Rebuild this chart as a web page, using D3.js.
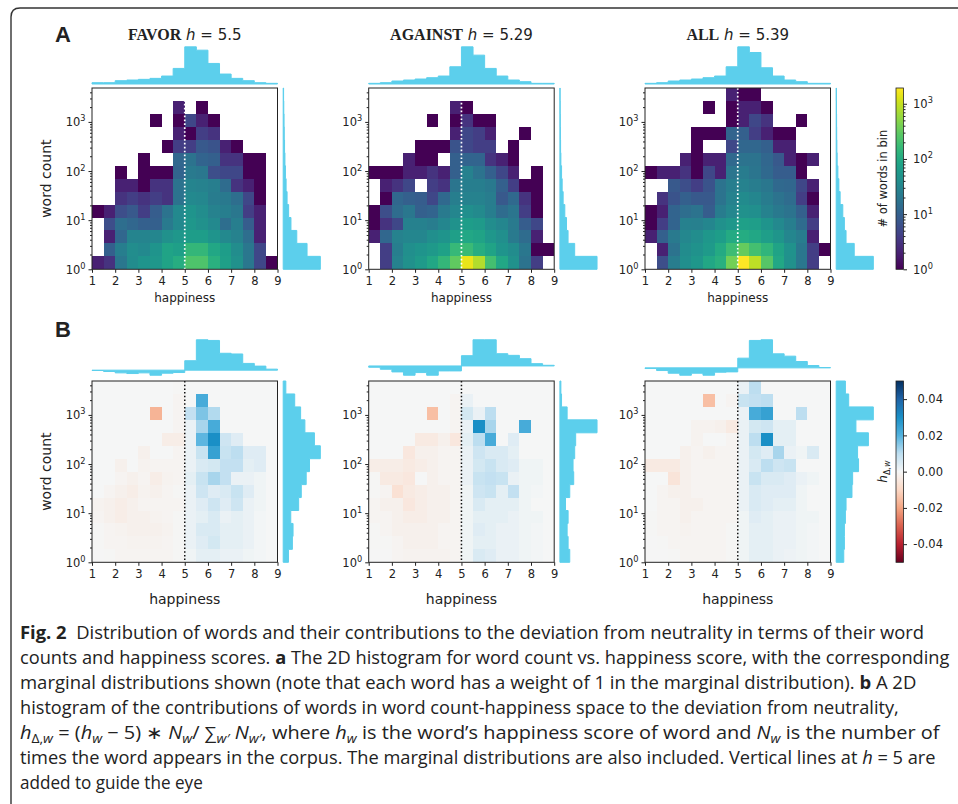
<!DOCTYPE html>
<html>
<head>
<meta charset="utf-8">
<script src="https://cdn.jsdelivr.net/npm/d3@7"></script>
<style>
body { margin: 0; background: #fff; }
svg text { font-family: "DejaVu Sans", sans-serif; fill: #222; }
</style>
</head>
<body>
<div id="chart"></div>
<script>
// ---------------- data ----------------
var groups = ["FAVOR", "AGAINST", "ALL"];
var groupHappiness = ["5.5", "5.29", "5.39"];
var happinessTicks = [1, 2, 3, 4, 5, 6, 7, 8, 9];
var countTicks = [1, 10, 100, 1000];
var contribTicks = [0.04, 0.02, 0, -0.02, -0.04];
var countMax = 4900;        // top of the word count axis
var colorCountMax = 1930;   // top of the "# of words in bin" colour bar
var contribMax = 0.05;
var vlineTopCount = [2800, 2450, 4900]; // where the h=5 guide starts in panel A

// 2D histograms, # of words per bin. rows: word count bins from top to bottom,
// columns: happiness bins 1-1.5 ... 8.5-9
var favorCounts = [
  [0,0,0,0,0,0,0,0,0,0,0,0,0,0,0,0],
  [0,0,0,0,0,0,0,2,0,1,0,0,0,0,0,0],
  [0,0,0,0,0,1,0,1,5,2,1,0,0,0,0,0],
  [0,0,0,0,0,0,0,2,1,4,3,0,0,0,0,0],
  [0,0,0,0,0,0,1,4,4,8,7,2,1,0,0,0],
  [0,0,0,0,1,0,0,12,18,11,10,3,3,1,1,0],
  [0,0,1,0,1,1,1,11,22,20,6,5,5,1,1,0],
  [0,0,2,2,1,3,3,18,30,28,25,14,3,2,1,0],
  [0,0,3,4,3,4,3,18,35,33,23,21,15,5,1,0],
  [1,2,6,8,4,9,18,35,50,40,28,25,20,4,2,0],
  [0,6,15,12,10,10,22,35,55,45,35,15,25,9,2,0],
  [0,2,12,30,30,32,45,55,65,65,50,35,28,15,2,0],
  [0,10,25,40,35,50,80,70,150,150,90,65,40,20,5,0],
  [2,3,20,38,50,55,80,110,230,230,120,70,45,20,5,1]
];
var againstCounts = [
  [0,0,0,0,0,0,0,0,0,0,0,0,0,0,0,0],
  [0,0,0,0,0,0,0,2,1,0,0,0,0,0,0,0],
  [0,0,0,0,0,1,0,1,3,1,1,0,0,0,0,0],
  [0,0,0,0,0,0,0,2,5,4,2,0,0,1,0,0],
  [0,0,0,0,1,1,1,7,5,4,4,0,1,0,0,0],
  [0,0,0,2,1,1,0,10,11,11,3,2,1,0,0,0],
  [1,1,1,2,2,3,2,10,27,18,10,5,2,0,1,0],
  [0,2,3,5,0,4,3,19,25,25,21,10,4,1,1,0],
  [0,1,12,10,9,5,13,25,28,28,24,8,13,3,1,0],
  [1,6,14,20,10,11,22,32,42,36,25,14,19,4,1,0],
  [1,3,5,27,27,24,32,48,65,60,40,32,22,9,5,0],
  [2,12,28,32,32,42,50,70,90,80,55,42,22,14,2,0],
  [0,4,25,42,50,58,75,160,170,110,80,50,38,20,1,1],
  [0,4,28,45,60,90,150,300,1500,800,200,90,45,18,4,0]
];
var allCounts = [
  [0,0,0,0,0,0,0,2,1,1,0,0,0,0,0,0],
  [0,0,0,0,0,1,0,1,2,2,1,0,0,0,0,0],
  [0,0,0,0,0,0,0,1,2,5,3,0,0,1,0,0],
  [0,0,0,0,1,1,1,11,10,4,2,1,1,0,0,0],
  [0,0,0,0,1,0,0,5,12,12,10,2,2,0,0,0],
  [0,0,0,2,1,2,2,13,18,18,12,8,2,1,2,0],
  [1,2,2,3,1,5,2,19,23,19,13,9,9,1,0,0],
  [0,0,8,6,4,7,18,25,28,24,20,13,12,5,2,0],
  [0,3,7,10,8,8,18,28,37,32,23,18,14,4,1,0],
  [1,2,11,15,18,9,23,33,45,42,28,21,18,10,2,0],
  [1,4,11,27,26,32,45,55,72,68,50,35,25,14,4,0],
  [2,10,22,33,40,55,65,100,105,90,68,52,32,24,2,0],
  [0,2,18,38,48,60,100,180,320,200,140,80,48,20,4,1],
  [0,6,24,42,55,90,120,380,1900,900,260,90,45,20,4,0]
];

// contributions h_delta,w summed per bin, in units of 1e-3 (same layout)
var favorContrib = [
  [0,0,0,0,0,0,0,-0.5,0,0,0,0,0,0,0,0],
  [0,0,0,0,0,0,0,-1,0,22,0,0,0,0,0,0],
  [0,0,0,0,0,-17,0,-1,9,16,11,0,0,0,0,0],
  [0,0,0,0,0,0,0,-1,2,12,22,0,0,0,0,0],
  [0,0,0,0,0,0,-3,-3,2,19,30,7,4,0,0,0],
  [0,0,0,0,-2,0,0,-1,2,8,25,8,10,4,4,0],
  [0,0,-2,0,-1.5,-1,-1,-1,2,5,6,9,9,3,4,0],
  [0,0,-1,-2,-1,-3,-1.5,-1,3,8,12,9,2,2,1,0],
  [0,-1,-2,-3,-1.5,-2,-1,-0.5,2,7,4,5,8,4,1,0],
  [-1.5,-2,-3,-2,-1,-1,-1,-1,2,4,7,4,7,2,1,0],
  [-1,-2,-3,-2,-2,-1.5,-1,-0.5,2,3,5,2,3,2,0.5,0],
  [-0.5,-1,-1.5,-2,-2,-2,-1.5,-0.5,2,5,5,3,3,2,0.5,0],
  [-0.5,-1,-1,-1.5,-1.5,-1.5,-1,-0.5,2,4,6,3,3,2,0.5,0],
  [-0.3,-0.5,-1,-1,-1,-1,-1,-0.5,1,3,3,2,2,1,0.5,0]
];
var againstContrib = [
  [0,0,0,0,0,0,0,0,0,0,0,0,0,0,0,0],
  [0,0,0,0,0,0,0,-1,2,0,0,0,0,0,0,0],
  [0,0,0,0,0,-15,0,-1,6,2,10,0,0,0,0,0],
  [0,0,0,0,0,0,0,-1,2,30,12,0,0,22,0,0],
  [0,0,0,0,-4,-4,-2,-5,3,10,22,0,4,0,0,0],
  [0,0,0,-5,-2,-2,-1,-1,2,7,5,5,3,0,0,0],
  [-3,-3,-3,-4,-3,-2,-1,-1,2,6,8,5,4,1,1,0],
  [-0.5,-4,-4,-5,0,-2,-1,-1,2,8,9,8,2,1,1,0],
  [-0.5,-1,-7,-4,-3,-2,-2,-1,1,7,8,3,9,1,0.5,0],
  [-1,-2,-2,-5,-3,-2,-2,-1,1,5,3,3,3,1,0,0],
  [-1,-1,-2,-3,-3,-2,-2,-1,1,3,3,3,2,1,1,0],
  [-0.5,-1,-2,-2,-2,-2,-1,-1,1,4,3,2,2,1,0.5,0],
  [-0.5,-0.5,-1,-2,-2,-2,-1,-1,1,3,3,2,2,1,0.5,0],
  [-0.3,-0.3,-1,-1.5,-1.5,-1.5,-1.5,-1,1,5,4,2,2,1,0.5,0]
];
var allContrib = [
  [0,0,0,0,0,0,0,0,2,10,0,0,0,0,0,0],
  [0,0,0,0,0,-15,0,-1,8,9,10,0,0,0,0,0],
  [0,0,0,0,0,0,0,0,2,22,25,0,0,10,0,0],
  [0,0,0,0,-1.5,-1.5,-2,-4,2,6,7,3,3,0,0,0],
  [0,0,0,0,-1.5,0,0,-1,2,10,30,3,3,0,0,0],
  [0,0,0,-2,-1,-2,-1,-1,2,6,4,12,2,1,5,0],
  [-4,-4,-4,-2,-1,-1,-1,-1,2,5,10,7,8,0,0,0],
  [0,0,-6,-2,-1,-1,-1,-1,2,8,5,5,4,2,1,0],
  [0,-1,-2,-2,-1,-1,-1,-1,2,5,4,4,4,1,0,0],
  [0,-1,-1,-2,-2,-1,-1,-1,2,5,4,3,3,1,0,0],
  [-0.5,-1,-1,-2,-1,-1,-1,-1,1,4,3,2,2,1,1,0],
  [-0.5,-1,-1,-1.5,-1,-1,-1,-0.5,1,3,3,2,2,1,0.5,0],
  [-0.3,-0.5,-1,-1,-1,-1,-1,-0.5,1,3,3,2,2,1,0.5,0],
  [-0.3,-0.3,-0.5,-1,-1,-1,-1,-0.5,1,3,3,2,1.5,1,0.5,0]
];

// marginals (relative units). top: happiness bins left to right, right: count bins top to bottom
var favorTopHist = [4,4,10,12,14,17,24,47,112,102,62,30,17,10,4,2];
var againstTopHist = [2,4,9,12,15,19,24,52,112,87,47,24,12,7,2,2];
var allTopHist = [2,4,9,12,15,19,24,52,112,95,49,24,12,7,2,2];
var favorRightHist = [0.4,0.6,0.9,1.1,1.4,1.8,2.3,3,4,5.6,8,14,24.6,38.3];
var againstRightHist = [0.2,0.3,0.4,0.5,0.7,1,1.7,2.3,3.3,5,6.7,8.3,15,37.7];
var allRightHist = [0.2,0.3,0.4,0.5,0.7,1,1.7,2.7,4,6.7,8.3,10,18.3,37.7];

var favorTopContrib = [-1,-4,-8,-10,-8,-15,-9,-7,28,90,88,50,48,20,12,3];
var againstTopContrib = [-4,-10,-18,-28,-20,-28,-15,-15,31,79,79,37,32,22,7,2];
var allTopContrib = [-2,-8,-16,-22,-16,-22,-13,-12,29,82,84,42,35,19,7,1];
var favorRightContrib = [8,35,53,66,95,113,80,70,55,47,23,30,28,16];
var againstRightContrib = [3,5,22,113,48,45,40,42,30,17,25,22,25,30];
var allRightContrib = [28,38,113,60,98,65,68,50,48,30,28,25,25,23];

var countGrids = [favorCounts, againstCounts, allCounts];
var contribGrids = [favorContrib, againstContrib, allContrib];
var topHists = [favorTopHist, againstTopHist, allTopHist];
var rightHists = [favorRightHist, againstRightHist, allRightHist];
var topContribs = [favorTopContrib, againstTopContrib, allTopContrib];
var rightContribs = [favorRightContrib, againstRightContrib, allRightContrib];

// ---------------- layout ----------------
var width = 958, height = 804;
var plotW = 185.5, plotH = 181.3;
var colLeft = [92, 368.7, 645];
var rowTop = [88, 381];
var histColor = "#5ccfec";
var nRows = 14, nCols = 16;

var hEdges = d3.range(nCols + 1).map(function(i) { return 1 + i * 0.5; });
var cEdges = d3.range(nRows + 1).map(function(i) {
  return Math.pow(10, i * Math.log10(countMax) / nRows);
});

var countColor = d3.scaleSequentialLog(d3.interpolateViridis).domain([1, colorCountMax]);
var contribColor = d3.scaleLinear()
  .domain([-0.05, -0.04, -0.03, -0.02, -0.01, 0, 0.01, 0.02, 0.03, 0.04, 0.05])
  .range(["#67001f", "#b8202f", "#d9604e", "#f4a582", "#fcd8c5", "#f5f6f6",
          "#bddef0", "#52b2de", "#1a8fc6", "#1f63a6", "#053061"])
  .interpolate(d3.interpolateRgb)
  .clamp(true);

var svg = d3.select("#chart").append("svg")
  .attr("width", width)
  .attr("height", height);

// frame of the figure box
svg.append("path")
  .attr("d", "M11,804 L11,17 Q11,8 20,8 L958,8")
  .attr("fill", "none")
  .attr("stroke", "#333")
  .attr("stroke-width", 1.4);

svg.append("text").attr("x", 55).attr("y", 42)
  .style("font-family", "'Liberation Sans', Arial, sans-serif")
  .attr("font-weight", "bold").attr("font-size", 22).attr("fill", "#111").text("A");
svg.append("text").attr("x", 55).attr("y", 337)
  .style("font-family", "'Liberation Sans', Arial, sans-serif")
  .attr("font-weight", "bold").attr("font-size", 22).attr("fill", "#111").text("B");

function cellsOf(grid) {
  var out = [];
  grid.forEach(function(row, r) {
    row.forEach(function(v, c) {
      if (v !== 0) out.push({ bin: nRows - 1 - r, c: c, v: v });
    });
  });
  return out;
}

function drawAxes(g, x, y, left, top, first, xlabY, xlabSize) {
  var gx = g.append("g")
    .attr("transform", "translate(0," + (top + plotH) + ")")
    .call(d3.axisBottom(x).tickValues(happinessTicks).tickSize(3.5).tickPadding(4.5).tickFormat(d3.format("d")));
  gx.select(".domain").remove();
  gx.selectAll("text").attr("font-size", 11.5).attr("font-family", null);

  var minor = [];
  [1, 10, 100, 1000].forEach(function(d) {
    for (var m = 2; m <= 9; m++) if (m * d <= countMax) minor.push(m * d);
  });
  var gm = g.append("g").attr("transform", "translate(" + left + ",0)")
    .call(d3.axisLeft(y).tickValues(minor).tickSize(2).tickFormat(""));
  gm.select(".domain").remove();
  var gy = g.append("g").attr("transform", "translate(" + left + ",0)")
    .call(d3.axisLeft(y).tickValues(countTicks).tickSize(3.5).tickFormat(""));
  gy.select(".domain").remove();
  g.selectAll(".tick line").attr("stroke", "#222");

  var lab = g.append("g").selectAll("text")
    .data(countTicks)
    .enter().append("text")
    .attr("x", left - 6.5)
    .attr("y", function(d) { return y(d) + 4.5; })
    .attr("text-anchor", "end")
    .attr("font-size", 11.5);
  lab.append("tspan").text("10");
  lab.append("tspan").attr("dy", -5).attr("font-size", 8.2)
    .text(function(d) { return Math.round(Math.log10(d)); });

  g.append("text")
    .attr("x", left + plotW / 2).attr("y", xlabY)
    .attr("text-anchor", "middle").attr("font-size", xlabSize)
    .text("happiness");

  if (first) {
    g.append("text")
      .attr("transform", "translate(" + (left - 41) + "," + (top + plotH / 2) + ") rotate(-90)")
      .attr("text-anchor", "middle").attr("font-size", 14)
      .text("word count");
  }
}

function stepTop(g, vals, x, top, signed) {
  var lo = d3.min(vals), hi = d3.max(vals), dom;
  if (signed) {
    var pad = (hi - lo) * 0.05;
    dom = [lo - pad, hi + pad];
  } else {
    dom = [0, hi * 1.05];
  }
  var y = d3.scaleLinear().domain(dom).range([top - 4, top - 43]);
  var pts = [[x(1), y(0)]];
  vals.forEach(function(v, i) {
    pts.push([x(hEdges[i]), y(v)], [x(hEdges[i + 1]), y(v)]);
  });
  pts.push([x(9), y(0)]);
  g.append("path")
    .attr("d", d3.line()(pts) + "Z")
    .attr("fill", histColor)
    .attr("stroke", histColor)
    .attr("stroke-width", 1);
}

function stepRight(g, valsTopDown, y, left) {
  var vals = valsTopDown.slice().reverse();
  var x = d3.scaleLinear().domain([0, d3.max(vals) * 1.05]).range([left, left + 39]);
  var pts = [[x(0), y(cEdges[0])]];
  vals.forEach(function(v, i) {
    pts.push([x(v), y(cEdges[i])], [x(v), y(cEdges[i + 1])]);
  });
  pts.push([x(0), y(cEdges[nRows])]);
  g.append("path")
    .attr("d", d3.line()(pts) + "Z")
    .attr("fill", histColor)
    .attr("stroke", histColor)
    .attr("stroke-width", 1);
}

groups.forEach(function(name, k) {
  var left = colLeft[k];
  var x = d3.scaleLinear().domain([1, 9]).range([left, left + plotW]);

  // ---------- panel A ----------
  var top = rowTop[0];
  var y = d3.scaleLog().domain([1, countMax]).range([top + plotH, top]);
  var g = svg.append("g");

  g.append("g").selectAll("rect")
    .data(cellsOf(countGrids[k]))
    .enter().append("rect")
    .attr("x", function(d) { return x(hEdges[d.c]); })
    .attr("width", function(d) { return x(hEdges[d.c + 1]) - x(hEdges[d.c]); })
    .attr("y", function(d) { return y(cEdges[d.bin + 1]); })
    .attr("height", function(d) { return y(cEdges[d.bin]) - y(cEdges[d.bin + 1]); })
    .attr("fill", function(d) { return countColor(d.v); })
    .attr("shape-rendering", "crispEdges");

  g.append("line")
    .attr("x1", x(5)).attr("x2", x(5))
    .attr("y1", y(vlineTopCount[k])).attr("y2", top + plotH)
    .attr("stroke", "#fff").attr("stroke-width", 1.7)
    .attr("stroke-dasharray", "1.7,2.2");

  g.append("rect")
    .attr("x", left).attr("y", top).attr("width", plotW).attr("height", plotH)
    .attr("fill", "none").attr("stroke", "#222").attr("stroke-width", 1);

  drawAxes(g, x, y, left, top, k === 0, 302, 12);
  stepTop(g, topHists[k], x, top, false);
  stepRight(g, rightHists[k], y, left + plotW + 5.7);

  var title = g.append("text")
    .attr("x", left + plotW / 2).attr("y", 40)
    .attr("text-anchor", "middle").attr("font-size", 15)
    .style("white-space", "pre");
  title.append("tspan").style("font-family", "'Liberation Serif', 'DejaVu Serif', serif")
    .attr("font-weight", "bold").attr("font-size", 16).text(name);
  title.append("tspan").text(" ");
  title.append("tspan").attr("font-style", "italic").text("h");
  title.append("tspan").text(" = " + groupHappiness[k]);

  // ---------- panel B ----------
  var topB = rowTop[1];
  var yB = d3.scaleLog().domain([1, countMax]).range([topB + plotH, topB]);
  var gB = svg.append("g");

  gB.append("rect")
    .attr("x", left).attr("y", topB).attr("width", plotW).attr("height", plotH)
    .attr("fill", contribColor(0));

  gB.append("g").selectAll("rect")
    .data(cellsOf(contribGrids[k]))
    .enter().append("rect")
    .attr("x", function(d) { return x(hEdges[d.c]); })
    .attr("width", function(d) { return x(hEdges[d.c + 1]) - x(hEdges[d.c]); })
    .attr("y", function(d) { return yB(cEdges[d.bin + 1]); })
    .attr("height", function(d) { return yB(cEdges[d.bin]) - yB(cEdges[d.bin + 1]); })
    .attr("fill", function(d) { return contribColor(d.v / 1000); })
    .attr("shape-rendering", "crispEdges");

  gB.append("line")
    .attr("x1", x(5)).attr("x2", x(5))
    .attr("y1", topB).attr("y2", topB + plotH)
    .attr("stroke", "#111").attr("stroke-width", 1.5)
    .attr("stroke-dasharray", "1.5,2.2");

  gB.append("rect")
    .attr("x", left).attr("y", topB).attr("width", plotW).attr("height", plotH)
    .attr("fill", "none").attr("stroke", "#222").attr("stroke-width", 1);

  drawAxes(gB, x, yB, left, topB, k === 0, 604, 14);
  stepTop(gB, topContribs[k], x, topB, true);
  stepRight(gB, rightContribs[k], yB, left + plotW + 5.7);
});

// ---------------- colour bars ----------------
var defs = svg.append("defs");
function gradient(id, colorAt) {
  var lg = defs.append("linearGradient").attr("id", id)
    .attr("x1", 0).attr("y1", 1).attr("x2", 0).attr("y2", 0);
  d3.range(0, 1.0001, 0.025).forEach(function(t) {
    lg.append("stop").attr("offset", t).attr("stop-color", colorAt(t));
  });
}
gradient("gradCount", function(t) { return countColor(Math.pow(colorCountMax, t)); });
gradient("gradContrib", function(t) { return contribColor(-contribMax + 2 * contribMax * t); });

var cbX = 896, cbW = 7.5;

// count colour bar
var cbA = svg.append("g");
var cyA = d3.scaleLog().domain([1, colorCountMax]).range([rowTop[0] + plotH, rowTop[0]]);
cbA.append("rect").attr("x", cbX).attr("y", rowTop[0]).attr("width", cbW).attr("height", plotH)
  .attr("fill", "url(#gradCount)").attr("stroke", "#222").attr("stroke-width", 0.8);
var cbMinor = [];
[1, 10, 100, 1000].forEach(function(d) {
  for (var m = 2; m <= 9; m++) if (m * d <= colorCountMax) cbMinor.push(m * d);
});
var cam = cbA.append("g").attr("transform", "translate(" + (cbX + cbW) + ",0)")
  .call(d3.axisRight(cyA).tickValues(cbMinor).tickSize(2).tickFormat(""));
cam.select(".domain").remove();
var cag = cbA.append("g").attr("transform", "translate(" + (cbX + cbW) + ",0)")
  .call(d3.axisRight(cyA).tickValues(countTicks).tickSize(3.5).tickFormat(""));
cag.select(".domain").remove();
cbA.selectAll(".tick line").attr("stroke", "#222");
var cal = cbA.append("g").selectAll("text")
  .data(countTicks)
  .enter().append("text")
  .attr("x", 913)
  .attr("y", function(d) { return cyA(d) + 4.5; })
  .attr("font-size", 11.5);
cal.append("tspan").text("10");
cal.append("tspan").attr("dy", -5).attr("font-size", 8.2)
  .text(function(d) { return Math.round(Math.log10(d)); });
cbA.append("text")
  .attr("transform", "translate(887," + (rowTop[0] + plotH / 2) + ") rotate(-90)")
  .attr("text-anchor", "middle").attr("font-size", 11.5)
  .text("# of words in bin");

// contribution colour bar
var cbB = svg.append("g");
var cyB = d3.scaleLinear().domain([-contribMax, contribMax]).range([rowTop[1] + plotH, rowTop[1]]);
cbB.append("rect").attr("x", cbX).attr("y", rowTop[1]).attr("width", cbW).attr("height", plotH)
  .attr("fill", "url(#gradContrib)").attr("stroke", "#222").attr("stroke-width", 0.8);
var cbg = cbB.append("g").attr("transform", "translate(" + (cbX + cbW) + ",0)")
  .call(d3.axisRight(cyB).tickValues(contribTicks).tickSize(3.5).tickFormat(""));
cbg.select(".domain").remove();
cbB.selectAll(".tick line").attr("stroke", "#222");
cbB.append("g").selectAll("text")
  .data(contribTicks)
  .enter().append("text")
  .attr("x", 943)
  .attr("y", function(d) { return cyB(d) + 4.2; })
  .attr("text-anchor", "end")
  .attr("font-size", 11.5)
  .text(function(d) { return d.toFixed(2); });
var hl = cbB.append("text")
  .attr("transform", "translate(887," + (rowTop[1] + plotH / 2) + ") rotate(-90)")
  .attr("text-anchor", "middle").attr("font-size", 12);
hl.append("tspan").attr("font-style", "italic").text("h");
hl.append("tspan").attr("dy", 3).attr("font-size", 8).text("Δ,");
hl.append("tspan").attr("font-size", 8).attr("font-style", "italic").text("w");

// ---------------- caption ----------------
var captionLines = [
  [["Fig. 2", "b"], ["  Distribution of words and their contributions to the deviation from neutrality in terms of their word"]],
  [["counts and happiness scores. "], ["a", "b"], [" The 2D histogram for word count vs. happiness score, with the corresponding"]],
  [["marginal distributions shown (note that each word has a weight of 1 in the marginal distribution). "], ["b", "b"], [" A 2D"]],
  [["histogram of the contributions of words in word count-happiness space to the deviation from neutrality,"]],
  [["h", "i"], ["Δ,", "s"], ["w", "si"], [" = ("], ["h", "i"], ["w", "si"], [" − 5) ∗ "], ["N", "i"], ["w", "si"],
   ["/ "], ["∑", "L"], ["w′", "si"], [" "], ["N", "i"], ["w′", "si"], [", where "], ["h", "i"], ["w", "si"],
   [" is the word’s happiness score of word and "], ["N", "i"], ["w", "si"], [" is the number of"]],
  [["times the word appears in the corpus. The marginal distributions are also included. Vertical lines at "], ["h", "i"], [" = 5 are"]],
  [["added to guide the eye"]]
];
var captionRight = [925, 950, 917, 899, 941, 936, 203];

captionLines.forEach(function(segs, i) {
  var t = svg.append("text")
    .style("font-family", "'Open Sans', 'Noto Sans', sans-serif")
    .style("white-space", "pre")
    .attr("font-size", 18)
    .attr("fill", "#231f20");
  var shift = 0;
  segs.forEach(function(s) {
    var st = s[1] || "";
    var ts = t.append("tspan").text(s[0]);
    var ns = 0;
    if (st.indexOf("b") >= 0) ts.attr("font-weight", "bold");
    if (st.indexOf("i") >= 0) ts.attr("font-style", "italic");
    if (st.indexOf("s") >= 0) { ns = 4; ts.attr("font-size", 12.5); }
    if (st.indexOf("L") >= 0) ts.attr("font-size", 17);
    if (ns !== shift) ts.attr("dy", ns - shift);
    shift = ns;
  });
  var w = t.node().getBBox().width;
  t.attr("transform", "translate(20," + (639 + i * 25) + ") scale(" + ((captionRight[i] - 20) / w) + ",1)");
});
</script>
</body>
</html>
